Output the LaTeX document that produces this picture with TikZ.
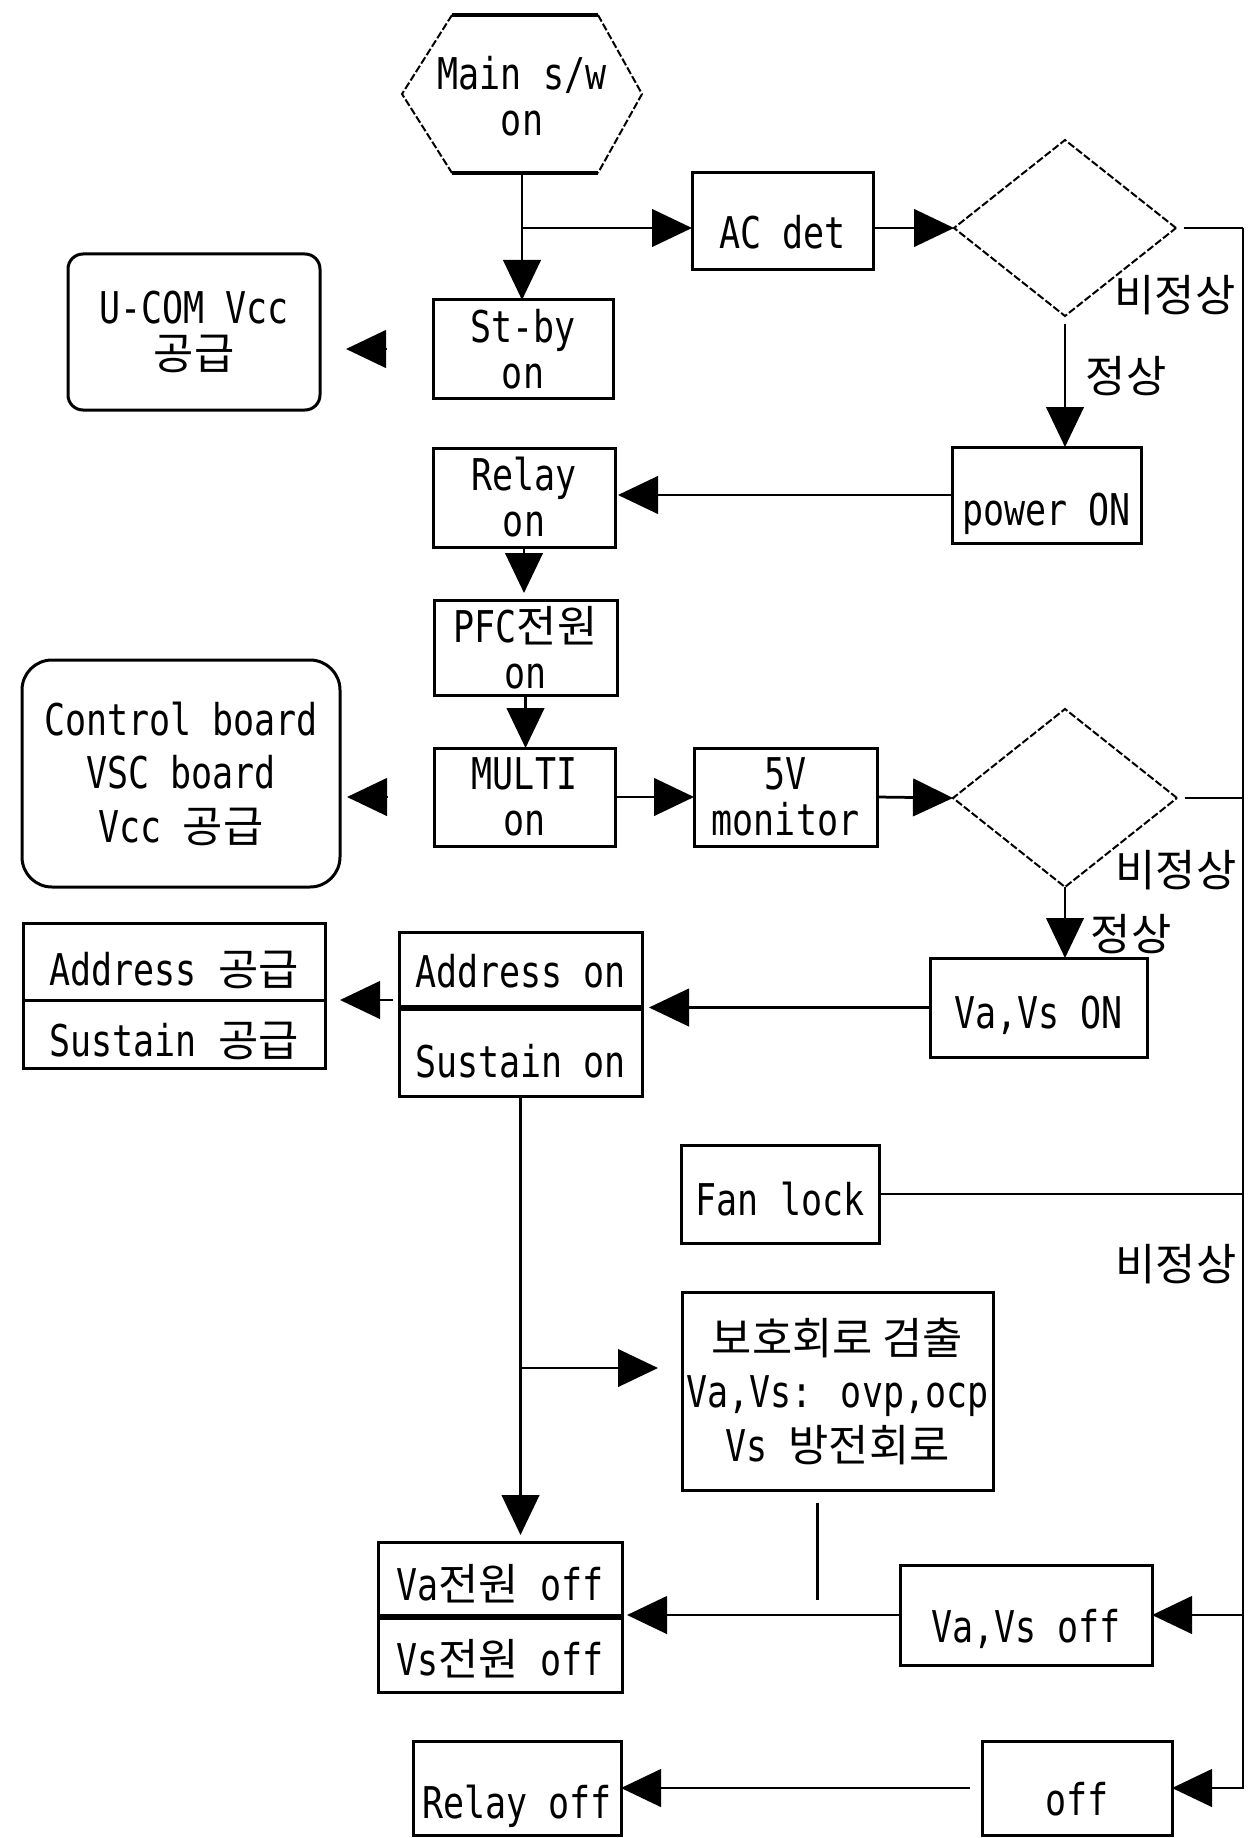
\documentclass[tikz,border=0pt]{standalone}
\usepackage{fontspec}
\setmainfont{DejaVu Sans Mono}[FakeStretch=0.8]
\newfontfamily\krfont{Noto Sans CJK KR}
\newcommand{\hgl}[1]{{\krfont #1}}
\usetikzlibrary{arrows.meta,shapes.geometric}
\tikzset{
  base/.style={font=\fontsize{17.5pt}{18.4pt}\selectfont, align=center, inner sep=0pt, outer sep=0pt},
  box/.style={base, draw, line width=1.2pt, rectangle},
  rbox/.style={box, rounded corners=#1},
  sz/.style 2 args={minimum width=#1*0.4pt, minimum height=#2*0.4pt},
  low/.style={text height=#1, text depth=0pt},
  dia/.style={draw, shape=diamond, line width=0.8pt, dash pattern=on 3pt off 1pt, inner sep=0pt, outer sep=0pt},
  slant/.style={line width=0.8pt, dash pattern=on 3pt off 1pt},
  line/.style={line width=1.1pt},
  arr/.style={line, -{Triangle[length=16pt,width=15pt]}},
  lbl/.style={base},
  wide/.style={font=\fontsize{17.5pt}{21.4pt}\selectfont},
}
\begin{document}
\begin{tikzpicture}[x=0.4pt,y=-0.4pt]
\useasboundingbox (0,0) rectangle (1259,1838);
\fill[white] (0,0) rectangle (1259,1838);

% start hexagon
\node[base, sz={240}{158}] (main) at (522,96) {Main s/w\\on};
\draw[line width=1.4pt] (452,15) -- (598,15);
\draw[line width=1.4pt] (452,173) -- (598,173);
\draw[slant] (598,15) -- (642,94) -- (598,173);
\draw[slant] (452,15) -- (402,94) -- (452,173);

% boxes
\node[box, low=22pt, sz={181}{97}] (acdet) at (782.5,221.5) {AC det};
\node[dia, sz={222}{176}] (d1) at (1065,228) {};
\node[rbox=6pt, sz={252}{156}] (ucom) at (194,332) {U-COM Vcc\\\hgl{공급}};
\node[box, sz={180}{98}] (stby) at (523,349) {St-by\\on};
\node[box, sz={182}{99}] (relay) at (524,497.5) {Relay\\on};
\node[box, low=24pt, sz={189}{96}] (pon) at (1046.5,495) {power ON};
\node[box, sz={183}{95}] (pfc) at (525.5,647.5) {PFC\hgl{전원}\\on};
\node[rbox=12pt, wide, sz={318}{227}] (ctrl) at (181,773.5) {Control board\\VSC board\\Vcc \hgl{공급}};
\node[box, sz={181}{98}] (multi) at (524.5,797) {MULTI\\on};
\node[box, sz={183}{98}] (fivev) at (785.5,797) {5V\\monitor};
\node[dia, sz={224}{178}] (d2) at (1065,798) {};
\node[box, low=17pt, sz={217}{99}] (vaon) at (1038.5,1007.5) {Va,Vs ON};
\node[box, low=14pt, sz={243}{76}] (addron) at (520.5,970) {Address on};
\node[box, low=20pt, sz={243}{88}] (suson) at (520.5,1052) {Sustain on};
\node[box, low=19pt, sz={302}{77}] (addsup) at (174,961.5) {Address \hgl{공급}};
\node[box, low=18pt, sz={302}{68}] (sussup) at (174,1034) {Sustain \hgl{공급}};
\node[box, low=17pt, sz={198}{98}] (fan) at (780,1194) {Fan lock};
\node[box, wide, sz={311}{198}] (prot) at (837.5,1391) {\hgl{보호회로 검출}\\Va,Vs: ovp,ocp\\Vs \hgl{방전회로}};
\node[box, low=17pt, sz={244}{75}] (vapow) at (500,1579.5) {Va\hgl{전원} off};
\node[box, low=17pt, sz={244}{75}] (vspow) at (500,1654.5) {Vs\hgl{전원} off};
\node[box, low=22pt, sz={252}{100}] (vaoff) at (1026,1615) {Va,Vs off};
\node[box, low=22pt, sz={190}{94}] (off) at (1077,1788) {off};
\node[box, low=24pt, sz={208}{94}] (relayoff) at (517,1788) {Relay off};

% thick dividers
\draw[line width=2.4pt] (addron.south west) -- (addron.south east);
\draw[line width=2.4pt] (vapow.south west) -- (vapow.south east);

% labels
\node[lbl] (ab1) at (1175,295) {\hgl{비정상}};
\node[lbl] (ok1) at (1126,376) {\hgl{정상}};
\node[lbl] (ab2) at (1176,870) {\hgl{비정상}};
\node[lbl] (ok2) at (1131,934) {\hgl{정상}};
\node[lbl] (ab3) at (1176,1264) {\hgl{비정상}};

% connectors
\draw[arr] (main.south) -- (main.south |- stby.north);
\draw[arr] (main.south |- d1.west) -- (acdet.west |- d1.west);
\draw[arr] (acdet.east |- d1.west) -- (d1.west);
\draw[arr, shorten <=3pt] (d1.south) -- (d1.south |- pon.north);
\draw[arr, shorten >=1.2pt] (pon.west) -- (pon.west -| relay.east);
\draw[arr, shorten <=18.4pt, shorten >=10.4pt] (stby.west) -- (stby.west -| ucom.east);
\draw[arr, shorten >=2.8pt] (relay.south) -- (relay.south |- pfc.north);
\draw[arr] (pfc.south) -- (pfc.south |- multi.north);
\draw[arr] (multi.east) -- (fivev.west);
\draw[arr] (fivev.east) -- (d2.west);
\draw[arr, shorten <=18.4pt, shorten >=2.8pt] (multi.west) -- (multi.west -| ctrl.east);
\draw[arr] (d2.south) -- (d2.south |- vaon.north);
\draw[arr, shorten >=2.8pt] (vaon.west) -- (vaon.west -| addron.east);
\draw[arr, shorten <=2.4pt, shorten >=6pt] (addsup.south east -| addron.west) -- (addsup.south east);
\draw[arr, shorten >=2.8pt] (suson.south) -- (suson.south |- vapow.north);
\coordinate (brk) at ([yshift=9.2pt]prot.west);
\draw[arr, shorten >=9.6pt] (brk -| suson.south) -- (brk);
\draw[line] ([xshift=-8pt,yshift=-5pt]prot.south) -- ++(0,97);
\draw[arr, shorten >=2pt] (vaoff.west) -- (vaoff.west -| vapow.east);
\draw[arr, shorten <=4.8pt] (off.west) -- (off.west -| relayoff.east);

% right return line
\coordinate (rtop) at (1243,228);
\draw[line, shorten <=3pt] (d1.east) -- (rtop);
\draw[arr] (rtop) -- (rtop |- off.east) -- (off.east);
\draw[line, shorten <=3pt] (d2.east) -- (d2.east -| rtop);
\draw[line] (fan.east) -- (fan.east -| rtop);
\draw[arr] (vaoff.east -| rtop) -- (vaoff.east);
\end{tikzpicture}
\end{document}
